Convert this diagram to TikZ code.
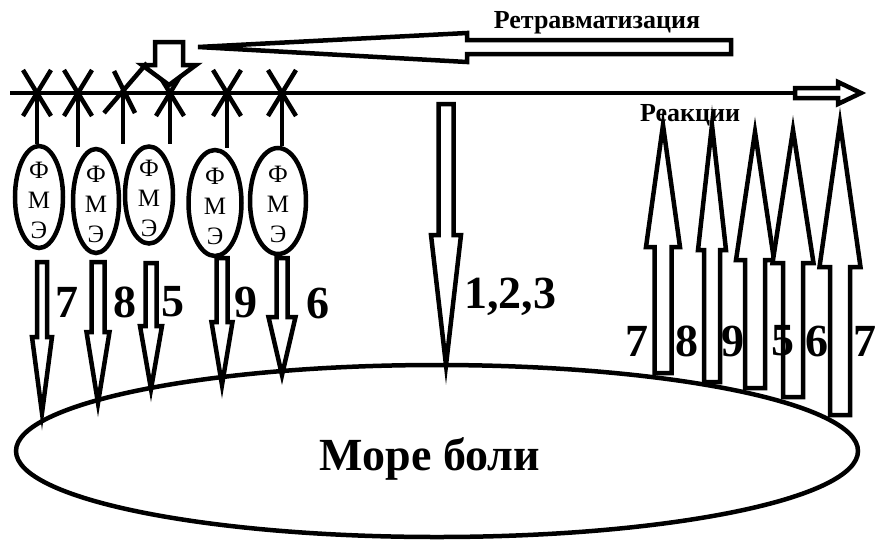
\documentclass[tikz,border=0pt]{standalone}
\usepackage{fontspec}
\setmainfont{Liberation Serif}
\usetikzlibrary{shapes.geometric}
\tikzset{
    fme/.style={ellipse,draw=black,line width=4.5pt, inner sep=0, font=\fontsize{25}{30}\selectfont},
    sea/.style={ellipse,draw=black,line width=4.5pt, inner sep=0, minimum width=842pt, minimum height=172pt},
    num/.style={inner sep=0, font=\bfseries\fontsize{46}{46}\selectfont},
    caption/.style={inner sep=0, font=\bfseries\fontsize{26}{26}\selectfont},
    pipe/.style={draw=black,line width=4.5pt, fill=white},
    xmark/.style={draw=black,line width=4.5pt}
}
\newcommand{\fmetext}{\smash{\raisebox{-12pt}{\begin{tabular}{@{}c@{}}Ф\\М\\Э\end{tabular}}}}
% hollow vertical arrow: x, tail y, head base y, tip y, half shaft, half head
\newcommand{\pipearrow}[6]{%
    \draw[pipe] ({#1-#5},#2) -- ({#1-#5},#3) -- ({#1-#6},#3) -- (#1,#4)
        -- ({#1+#6},#3) -- ({#1+#5},#3) -- ({#1+#5},#2) -- cycle;}

\begin{document}
\begin{tikzpicture}[x=1pt,y=-1pt]
    \useasboundingbox (0,0) rectangle (883,550);

    \node[sea] (sea) at (437,451) {};
    \node[num, anchor=base] (sealabel) at (430,470) {Море боли};

    % axis with the crosses
    \coordinate (axisstart) at (10,93);
    \coordinate (axisend) at (795,93);
    \coordinate (c1) at (37,93);
    \coordinate (c2) at (78,93);
    \coordinate (c3) at (123,93);
    \coordinate (c4) at (170,93);
    \coordinate (c5) at (227,93);
    \coordinate (c6) at (282,93);
    \draw[xmark] (axisstart) -- (axisend);
    \draw[pipe] (795,88) -- (838,88) -- (838,82) -- (861,93) -- (838,104) -- (838,98) -- (795,98) -- cycle;
    \foreach \c in {c1,c2,c4,c5,c6}
        \draw[xmark] (\c) +(-14,-23) -- +(14,23) +(14,-23) -- +(-14,23);
    \draw[xmark] (c3) +(-19,20) -- +(24,-30) +(-9,-22) -- +(12,20);

    \node[fme, minimum width=48pt, minimum height=102pt] (e1) at (39,197) {\fmetext};
    \node[fme, minimum width=46pt, minimum height=104pt] (e2) at (96,201) {\fmetext};
    \node[fme, minimum width=48pt, minimum height=97pt] (e3) at (149,195) {\fmetext};
    \node[fme, minimum width=53pt, minimum height=106pt] (e4) at (215,203) {\fmetext};
    \node[fme, minimum width=56pt, minimum height=106pt] (e5) at (278,201) {\fmetext};

    \draw[xmark] (c1) -- (c1 |- e1.north);
    \draw[xmark] (c2) -- (c2 |- e2.north);
    \draw[xmark] (c3) -- (c3 |- e3.north);
    \draw[xmark] (c4) -- (c4 |- e3.north);
    \draw[xmark] (c5) -- (c5 |- e4.north);
    \draw[xmark] (c6) -- (c6 |- e5.north);

    % retraumatization
    \draw[pipe] (731,40) -- (467,40) -- (467,33) -- (198,47) -- (467,62) -- (467,54) -- (731,54) -- cycle;
    \node[caption, anchor=base] (retrauma) at (597,28) {Ретравматизация};
    \pipearrow{169}{42}{65}{85}{14}{27}
    \node[caption, anchor=base] (react) at (690,121) {Реакции};

    % down into the sea
    \pipearrow{42}{262}{337}{413}{5}{10}
    \pipearrow{98}{262}{332}{403}{6.5}{11.5}
    \pipearrow{151}{263}{326}{389}{5.5}{11}
    \pipearrow{222}{258}{322}{385}{5.5}{10.5}
    \pipearrow{282}{258}{317}{375}{5.5}{13.5}
    \pipearrow{446}{104}{235}{365}{7.5}{15}
    \node[num] (l1) at (67,302) {7};
    \node[num] (l2) at (125,302) {8};
    \node[num] (l3) at (173,302) {5};
    \node[num] (l4) at (246,302) {9};
    \node[num] (l5) at (318,303) {6};
    \node[num, anchor=base] (hits) at (510,308) {1,2,3};

    % reactions up
    \pipearrow{663}{373}{247}{125}{8.5}{17}
    \pipearrow{712}{382}{250}{125}{8}{14}
    \pipearrow{755}{388}{260}{132}{10}{19}
    \pipearrow{793}{397}{263}{130}{10}{20.5}
    \pipearrow{840}{415}{267}{123}{10}{20.5}
    \node[num] (r1) at (637,341) {7};
    \node[num] (r2) at (687,341) {8};
    \node[num] (r3) at (733,341) {9};
    \node[num] (r4) at (783,341) {5};
    \node[num] (r5) at (817,341) {6};
    \node[num] (r6) at (865,341) {7};
\end{tikzpicture}
\end{document}
